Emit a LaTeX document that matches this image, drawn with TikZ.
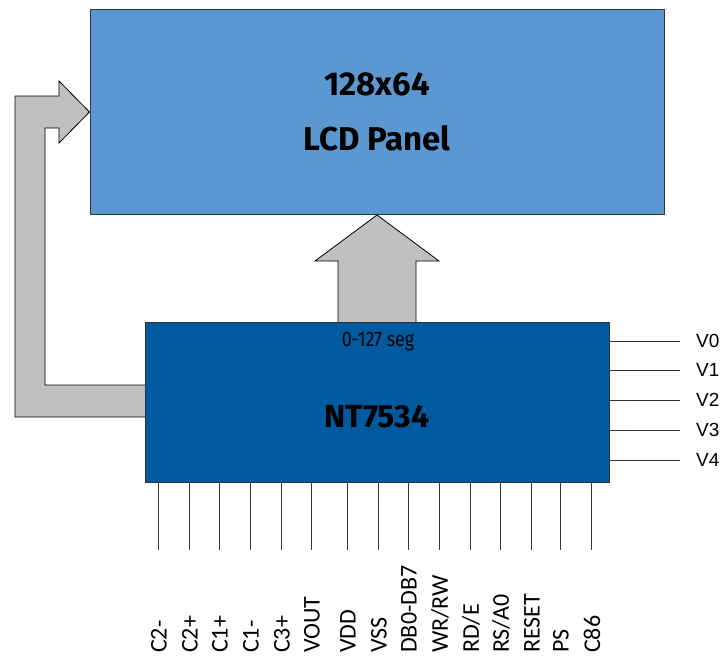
\documentclass[tikz,border=0pt]{standalone}
\usepackage{fontspec}
\setmainfont{Fira Sans}
\newfontfamily\pinfont{Carlito}
\newfontfamily\vfont{Liberation Sans}
\usetikzlibrary{positioning}
\definecolor{panelblue}{RGB}{91,151,208}
\definecolor{chipblue}{RGB}{0,90,160}
\definecolor{busgray}{RGB}{192,192,192}
\begin{document}
\begin{tikzpicture}[x=1pt, y=-1pt,
	panel/.style = {draw=black!80, line width=1pt, fill=panelblue, minimum width=574pt, minimum height=205pt, inner sep=0pt},
	chip/.style = {draw=black!80, line width=1pt, fill=chipblue, minimum width=464pt, minimum height=160pt, inner sep=0pt},
	bus/.style = {draw=black, line width=0.8pt, fill=busgray, line join=miter},
	pinline/.style = {draw=black!80, line width=1pt},
	pinlbl/.style = {rotate=90, anchor=west, inner sep=0pt, font=\pinfont\fontsize{24}{24}\selectfont},
	vlbl/.style = {anchor=west, inner sep=0pt, font=\vfont\fontsize{19}{19}\selectfont}]
	\useasboundingbox (0,0) rectangle (726,659);
	\node[panel] (lcd) at (377,112) {};
	\node[font=\bfseries\fontsize{33}{55}\selectfont, align=center] (lcdtxt) at (lcd.center) {128x64\\LCD Panel};
	\path[bus] (145,417) -- (15,417) -- (15,96) -- (59,96) -- (59,81) -- (lcd.west) -- (59,143) -- (59,128) -- (45,128) -- (45,385) -- (145,385);
	\path[bus] (338,323) -- (338,261) -- (315,261) -- (lcd.south) -- (439,261) -- (416,261) -- (416,323);
	\node[chip] (nt) at (377,402) {};
	\node[font=\fontsize{21}{21}\selectfont] (seg) at (378,342) {\scalebox{0.85}[1]{0-127 seg}};
	\node[font=\bfseries\fontsize{32}{32}\selectfont] (ntname) at (377,417) {NT7534};
	\coordinate (v0) at (680,341);
	\coordinate (v1) at (680,370);
	\coordinate (v2) at (680,400);
	\coordinate (v3) at (680,430);
	\coordinate (v4) at (680,460);
	\draw[pinline] (v0 -| nt.east) -- (v0);
	\draw[pinline] (v1 -| nt.east) -- (v1);
	\draw[pinline] (v2 -| nt.east) -- (v2);
	\draw[pinline] (v3 -| nt.east) -- (v3);
	\draw[pinline] (v4 -| nt.east) -- (v4);
	\node[vlbl] (lv0) [right=16pt of v0] {V0};
	\node[vlbl] (lv1) [right=16pt of v1] {V1};
	\node[vlbl] (lv2) [right=16pt of v2] {V2};
	\node[vlbl] (lv3) [right=16pt of v3] {V3};
	\node[vlbl] (lv4) [right=16pt of v4] {V4};
	\coordinate (p1) at (158,550);
	\coordinate (p2) at (189,550);
	\coordinate (p3) at (219,550);
	\coordinate (p4) at (250,550);
	\coordinate (p5) at (281,550);
	\coordinate (p6) at (311,550);
	\coordinate (p7) at (347,550);
	\coordinate (p8) at (378,550);
	\coordinate (p9) at (408,550);
	\coordinate (p10) at (439,550);
	\coordinate (p11) at (470,550);
	\coordinate (p12) at (500,550);
	\coordinate (p13) at (531,550);
	\coordinate (p14) at (560,550);
	\coordinate (p15) at (591,550);
	\draw[pinline] (p1 |- nt.south) -- (p1);
	\draw[pinline] (p2 |- nt.south) -- (p2);
	\draw[pinline] (p3 |- nt.south) -- (p3);
	\draw[pinline] (p4 |- nt.south) -- (p4);
	\draw[pinline] (p5 |- nt.south) -- (p5);
	\draw[pinline] (p6 |- nt.south) -- (p6);
	\draw[pinline] (p7 |- nt.south) -- (p7);
	\draw[pinline] (p8 |- nt.south) -- (p8);
	\draw[pinline] (p9 |- nt.south) -- (p9);
	\draw[pinline] (p10 |- nt.south) -- (p10);
	\draw[pinline] (p11 |- nt.south) -- (p11);
	\draw[pinline] (p12 |- nt.south) -- (p12);
	\draw[pinline] (p13 |- nt.south) -- (p13);
	\draw[pinline] (p14 |- nt.south) -- (p14);
	\draw[pinline] (p15 |- nt.south) -- (p15);
	\node[pinlbl] (l1) at (159,653) {C2-};
	\node[pinlbl] (l2) at (190,653) {C2+};
	\node[pinlbl] (l3) at (220,653) {C1+};
	\node[pinlbl] (l4) at (251,653) {C1-};
	\node[pinlbl] (l5) at (282,653) {C3+};
	\node[pinlbl] (l6) at (312,653) {VOUT};
	\node[pinlbl] (l7) at (348,653) {VDD};
	\node[pinlbl] (l8) at (379,653) {VSS};
	\node[pinlbl] (l9) at (409,653) {DB0-DB7};
	\node[pinlbl] (l10) at (440,653) {WR/RW};
	\node[pinlbl] (l11) at (471,653) {RD/E};
	\node[pinlbl] (l12) at (501,653) {RS/A0};
	\node[pinlbl] (l13) at (532,653) {RESET};
	\node[pinlbl] (l14) at (561,653) {PS};
	\node[pinlbl] (l15) at (592,653) {C86};
\end{tikzpicture}
\end{document}
